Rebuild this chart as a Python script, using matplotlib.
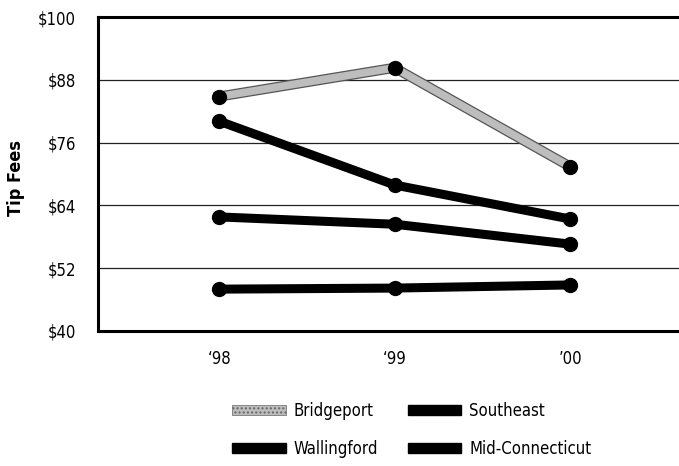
import matplotlib
matplotlib.use("Agg")
import matplotlib.pyplot as plt
import matplotlib.patheffects as pe
from matplotlib.patches import Patch

plt.rcParams['font.family'] = ['DejaVu Sans']
plt.rcParams['font.stretch'] = 'condensed'

years = ["\u201898", "\u201899", "\u201900"]
bridgeport = [84.8, 90.3, 71.4]
southeast = [80.1, 67.9, 61.4]
wallingford = [61.8, 60.4, 56.6]
mid_connecticut = [48.0, 48.2, 48.8]

y_ticks = [40, 52, 64, 76, 88, 100]

fig = plt.figure(figsize=(6.79, 4.66), dpi=100)
ax = fig.add_axes([0.1443, 0.2897, 0.8557, 0.6738])

x = list(range(len(years)))

# gridlines
for t in y_ticks[1:-1]:
    ax.axhline(t, color='#222222', lw=0.9, zorder=1)

for vals in (mid_connecticut, wallingford, southeast):
    ax.plot(x, vals, color='black', lw=6.5, marker='o', ms=10,
            solid_capstyle='round', zorder=3)

ax.plot(x, bridgeport, color='#bdbdbd', lw=5.5, zorder=4,
        path_effects=[pe.Stroke(linewidth=7.3, foreground='#555555'), pe.Normal()])
ax.plot(x, bridgeport, color='black', lw=0, marker='o', ms=10, zorder=5)

ax.set_xlim(-0.69, 2.62)
ax.set_ylim(40, 100)
ax.set_yticks(y_ticks)
ax.set_yticklabels(['$%d' % t for t in y_ticks], fontsize=12)
ax.set_xticks(x)
ax.set_xticklabels(years, fontsize=12)
ax.tick_params(axis='both', length=0)
ax.tick_params(axis='y', pad=16)
ax.tick_params(axis='x', pad=14)

for s in ('left', 'top', 'bottom'):
    ax.spines[s].set_linewidth(2.2)
ax.spines['right'].set_visible(False)

fig.text(0.024, 0.618, 'Tip Fees', rotation=90, fontsize=13, fontweight='bold',
         ha='center', va='center')

handles = [
    Patch(facecolor='#bdbdbd', edgecolor='#666666', hatch='....', lw=0.5),
    Patch(facecolor='black', edgecolor='black'),
    Patch(facecolor='black', edgecolor='black'),
    Patch(facecolor='black', edgecolor='black'),
]
labels = ['Bridgeport', 'Wallingford', 'Southeast', 'Mid-Connecticut']
fig.legend(handles, labels, loc='upper left', bbox_to_anchor=(0.342, 0.138),
           ncol=2, frameon=False, fontsize=12, handlelength=3.2,
           handleheight=0.6, columnspacing=1.75, labelspacing=1.2,
           handletextpad=0.5, borderpad=0, borderaxespad=0)

fig.savefig('out.png', dpi=100)
